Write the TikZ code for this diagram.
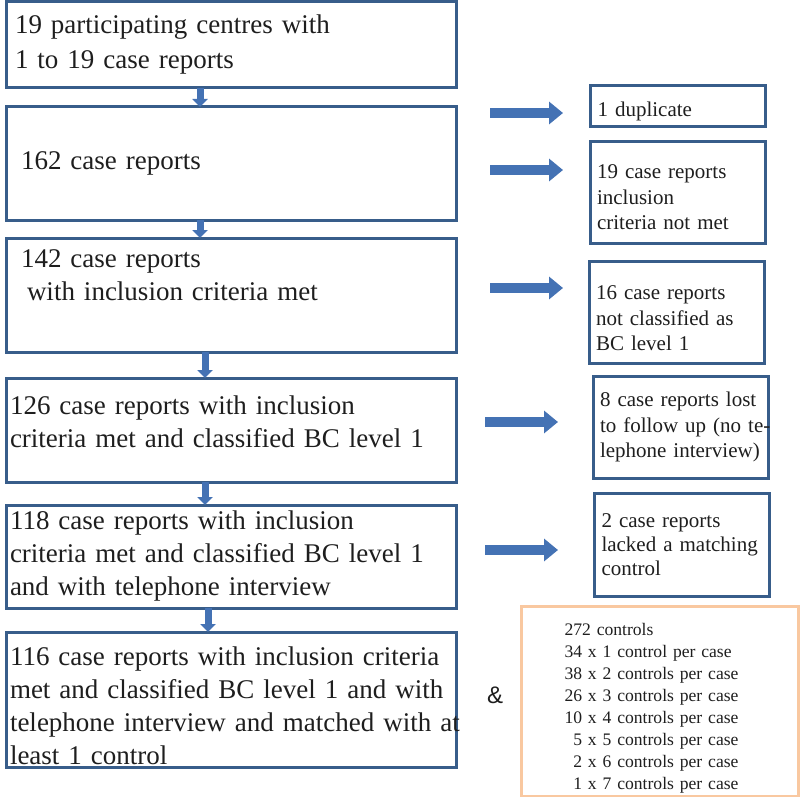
\documentclass[tikz,border=0pt]{standalone}
\usepackage{fontspec}
\setmainfont{Liberation Serif}
\newfontfamily\ampfont{Liberation Sans}
\usepackage{xcolor}
\usetikzlibrary{calc, positioning, arrows.meta}
\definecolor{boxline}{RGB}{56,93,138}
\definecolor{arrowfill}{RGB}{68,114,180}
\definecolor{peach}{RGB}{249,200,160}
\definecolor{ink}{RGB}{30,30,30}

\begin{document}
\begin{tikzpicture}
      [x=1pt, y=-1pt, node distance=19pt, text=ink,
       stage/.style={draw=boxline, line width=3pt, outer sep=0pt, minimum width=450pt,
         text width=442pt, inner xsep=4pt, align=left,
         font=\fontsize{27}{33}\selectfont},
       excl/.style={draw=boxline, line width=3pt, outer sep=0pt, minimum width=175pt,
         text width=161pt, inner xsep=7pt, align=left,
         font=\fontsize{21}{25.5}\selectfont},
       downarr/.style={draw=arrowfill, line width=7pt, -{Triangle[length=8pt,width=15pt]}},
       sidearr/.style={draw=arrowfill, line width=10pt, -{Triangle[length=14pt,width=22pt]}}]
      \useasboundingbox (0,0) rectangle (800,797);

      %nodes
      \node[stage, minimum height=86pt, inner xsep=9pt, text width=432pt,
        font=\fontsize{27}{35}\selectfont] (b1) at (231,45)
        {19 participating centres with\\1 to 19 case reports};
      \node[stage, minimum height=113pt, inner xsep=15pt, text width=420pt,
        below=19pt of b1] (b2) {162 case reports};
      \node[stage, minimum height=114pt, inner xsep=15pt, text width=420pt,
        below=18pt of b2] (b3)
        {142 case reports\\\hspace*{6pt}with inclusion criteria met\\[-3pt]\strut};
      \node[stage, minimum height=104pt, below=26pt of b3] (b4)
        {126 case reports with inclusion\\criteria met and classified BC level 1\\[-26pt]\strut};
      \node[stage, minimum height=103pt, below=23pt of b4] (b5)
        {118 case reports with inclusion\\criteria met and classified BC level 1\\and with telephone interview};
      \node[stage, minimum height=135pt, below=24pt of b5] (b6)
        {\rule{0pt}{30pt}116 case reports with inclusion criteria\\\mbox{met and classified BC level 1 and with}\\\mbox{telephone interview and matched with at}\\least 1 control};

      \node[excl, minimum height=41pt] (r1) at (678,106.5) {\rule{0pt}{25pt}1 duplicate};
      \node[excl, minimum height=102pt] (r2) at (677.5,192)
        {\rule{0pt}{25pt}19 case reports\\inclusion\\criteria not met};
      \node[excl, minimum height=102pt] (r3) at (676.5,312)
        {\rule{0pt}{27pt}16 case reports\\not classified as\\BC level 1};
      \node[excl, minimum height=102pt] (r4) at (680.5,427)
        {\mbox{8 case reports lost}\\\mbox{to follow up (no te-}\\\mbox{lephone interview)}};
      \node[excl, minimum height=103pt, font=\fontsize{21}{24}\selectfont] (r5) at (682,544.5)
        {2 case reports\\\mbox{lacked a matching}\\control};

      \node[draw=peach, line width=3pt, minimum width=277pt, minimum height=187pt,
        text width=190pt, align=left, font=\fontsize{17.6}{22}\selectfont] (ctrl) at (659.5,701.5)
        {\rule{0pt}{25pt}272 controls\\34 x 1 control per case\\38 x 2 controls per case\\26 x 3 controls per case\\10 x 4 controls per case\\\hspace*{0.5em}5 x 5 controls per case\\\hspace*{0.5em}2 x 6 controls per case\\\hspace*{0.5em}1 x 7 controls per case};
      \node[font=\ampfont\fontsize{24}{28}\selectfont] (amp) at (495,695) {\&};

      \coordinate (s1) at (490,113); \coordinate (t1) at (563,113);
      \coordinate (s2) at (490,170); \coordinate (t2) at (563,170);
      \coordinate (s3) at (490,288); \coordinate (t3) at (563,288);
      \coordinate (s4) at (485,422); \coordinate (t4) at (558,422);
      \coordinate (s5) at (485,550); \coordinate (t5) at (558,550);

      % edges %
      \draw[downarr] ([xshift=-31pt]b1.south) -- ([xshift=-31pt]b2.north);
      \draw[downarr] ([xshift=-31pt]b2.south) -- ([xshift=-31pt]b3.north);
      \draw[downarr] ([xshift=-26pt]b3.south) -- ([xshift=-26pt]b4.north);
      \draw[downarr] ([xshift=-26pt]b4.south) -- ([xshift=-26pt]b5.north);
      \draw[downarr] ([xshift=-23pt]b5.south) -- ([xshift=-23pt]b6.north);

      \draw[sidearr] (s1) -- (t1);
      \draw[sidearr] (s2) -- (t2);
      \draw[sidearr] (s3) -- (t3);
      \draw[sidearr] (s4) -- (t4);
      \draw[sidearr] (s5) -- (t5);
\end{tikzpicture}
\end{document}
